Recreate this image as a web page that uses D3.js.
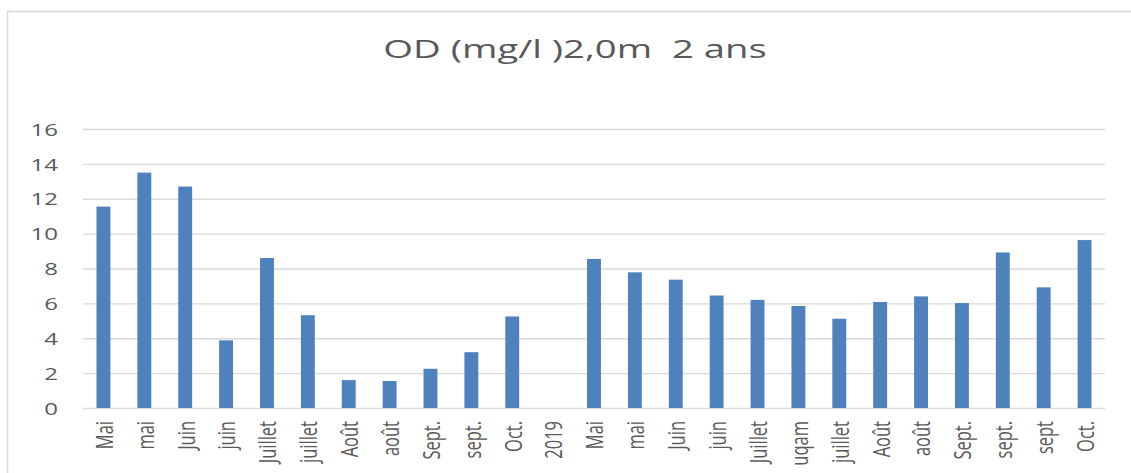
<!DOCTYPE html>
<html>
<head>
<meta charset="utf-8">
<script src="https://cdn.jsdelivr.net/npm/d3@7"></script>
<style>
  html, body { margin: 0; padding: 0; background: #fff; }
  svg { display: block; }
</style>
</head>
<body>
<svg id="chart" width="1131" height="473"></svg>
<script>
const titleText = "OD (mg/l )2,0m  2 ans";
const categories = ["Mai","mai","Juin","juin","Juillet","juillet","Août","août","Sept.","sept.","Oct.","2019",
                    "Mai","mai","Juin","juin","Juillet","uqam","juillet","Août","août","Sept.","sept.","sept","Oct."];
const values = [11.55, 13.5, 12.7, 3.88, 8.6, 5.32, 1.6, 1.55, 2.25, 3.2, 5.25, null,
                8.55, 7.78, 7.36, 6.45, 6.2, 5.85, 5.12, 6.08, 6.4, 6.02, 8.92, 6.92, 9.63];
const yTicks = [0, 2, 4, 6, 8, 10, 12, 14, 16];

const svg = d3.select("#chart");
const plotL = 83, plotR = 1105, plotT = 129, plotB = 408;

// chart border (open on right/bottom, as in the reference)
svg.append("path")
  .attr("d", "M7.5,473 V11.5 H1131")
  .attr("fill", "none").attr("stroke", "#d9d9d9").attr("stroke-width", 1.5);

const x = d3.scaleBand()
  .domain(d3.range(categories.length))
  .range([plotL, plotR])
  .paddingInner(0.66).paddingOuter(0.33);

const y = d3.scaleLinear().domain([0, 16]).range([plotB, plotT]);

// y axis + gridlines
const gy = svg.append("g").attr("transform", `translate(${plotL},0)`)
  .call(d3.axisLeft(y).tickValues(yTicks).tickSize(-(plotR - plotL)).tickPadding(0));
gy.select(".domain").remove();
gy.selectAll(".tick line").attr("stroke", "#d9d9d9").attr("stroke-width", 1.3);
gy.selectAll(".tick text")
  .attr("x", null).attr("dy", null)
  .attr("transform", "translate(-25,0) scale(1.55,1)")
  .attr("text-anchor", "end")
  .attr("dominant-baseline", "central")
  .style("font-family", "'Open Sans', sans-serif")
  .style("font-size", "15.5px")
  .attr("fill", "#595959");

// bars
svg.append("g").selectAll("rect")
  .data(values.map((v, i) => ({v, i})).filter(d => d.v != null))
  .join("rect")
  .attr("x", d => x(d.i))
  .attr("width", x.bandwidth())
  .attr("y", d => y(d.v))
  .attr("height", d => y(0) - y(d.v))
  .attr("fill", "#4f81bd");

// x axis
const gx = svg.append("g").attr("transform", `translate(0,${plotB})`)
  .call(d3.axisBottom(x).tickFormat(i => categories[i]).tickSize(0));
gx.select(".domain").remove();
gx.selectAll(".tick text")
  .attr("y", null).attr("dy", null)
  .attr("transform", "translate(0,13) scale(1.48,1) rotate(-90)")
  .attr("text-anchor", "end")
  .attr("dominant-baseline", "central")
  .style("font-family", "'Open Sans', sans-serif")
  .style("font-size", "16.5px")
  .attr("fill", "#595959");

// title
svg.append("text")
  .attr("transform", "translate(575,58) scale(1.53,1)")
  .attr("text-anchor", "middle")
  .style("font-family", "'Open Sans', sans-serif")
  .style("font-size", "25px")
  .style("white-space", "pre")
  .attr("xml:space", "preserve")
  .attr("fill", "#595959")
  .text(titleText);
</script>
</body>
</html>
